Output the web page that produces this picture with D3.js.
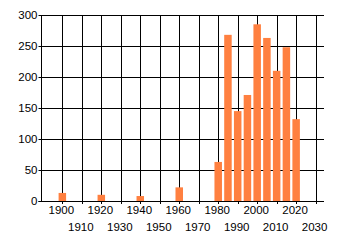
<!doctype html>
<html>
<head>
<meta charset="utf-8">
<script src="https://d3js.org/d3.v7.min.js"></script>
<style>
  body { margin: 0; background: #fff; }
  text { font-family: "Liberation Sans", Arial, sans-serif; font-size: 11.5px; fill: #000; }
</style>
</head>
<body>
<div id="chart"></div>
<script>
// data
var years  = [1900, 1920, 1940, 1960, 1980, 1985, 1990, 1995, 2000, 2005, 2010, 2015, 2020];
var values = [13, 10, 8, 22, 63, 268, 145, 171, 285, 263, 210, 248, 132];
var xTicks = [1900, 1910, 1920, 1930, 1940, 1950, 1960, 1970, 1980, 1990, 2000, 2010, 2020, 2030];
var yTicks = [0, 50, 100, 150, 200, 250, 300];

var W = 340, H = 245;
var plotL = 41.5, plotR = 324, plotT = 15, plotB = 201;

var svg = d3.select("#chart").append("svg")
    .attr("width", W).attr("height", H);

var x = d3.scaleLinear().domain([1889.3, 2034.3]).range([plotL, plotR]);
var y = d3.scaleLinear().domain([0, 300]).range([plotB, plotT]);
var barW = 3.85; // years

// grid
svg.append("g").selectAll("line").data(xTicks).enter().append("line")
    .attr("x1", d => Math.round(x(d)) + 0.5).attr("x2", d => Math.round(x(d)) + 0.5)
    .attr("y1", plotT).attr("y2", plotB + 3)
    .attr("stroke", "#000");
svg.append("g").selectAll("line").data(yTicks).enter().append("line")
    .attr("x1", plotL - 3).attr("x2", plotR)
    .attr("y1", d => Math.round(y(d)) + 0.5).attr("y2", d => Math.round(y(d)) + 0.5)
    .attr("stroke", "#000");

// bars
svg.append("g").selectAll("rect").data(years).enter().append("rect")
    .attr("x", (d) => x(d - barW / 2))
    .attr("width", x(barW) - x(0))
    .attr("y", (d, i) => y(values[i]))
    .attr("height", (d, i) => y(0) - y(values[i]))
    .attr("fill", "#ff8040");

// axis lines
svg.append("line").attr("x1", plotL).attr("x2", plotL).attr("y1", plotT).attr("y2", plotB)
    .attr("stroke", "#000");
svg.append("line").attr("x1", plotL - 3).attr("x2", plotR).attr("y1", plotB + 0.5).attr("y2", plotB + 0.5)
    .attr("stroke", "#000");

// y labels
svg.append("g").selectAll("text").data(yTicks).enter().append("text")
    .attr("x", plotL - 4).attr("y", d => y(d) + 4)
    .attr("text-anchor", "end")
    .text(d => d);

// x labels, staggered in two rows
svg.append("g").selectAll("text").data(xTicks).enter().append("text")
    .attr("x", d => x(d) - 1)
    .attr("y", (d, i) => i % 2 == 0 ? 214 : 231)
    .attr("text-anchor", "middle")
    .text(d => d);
</script>
</body>
</html>
